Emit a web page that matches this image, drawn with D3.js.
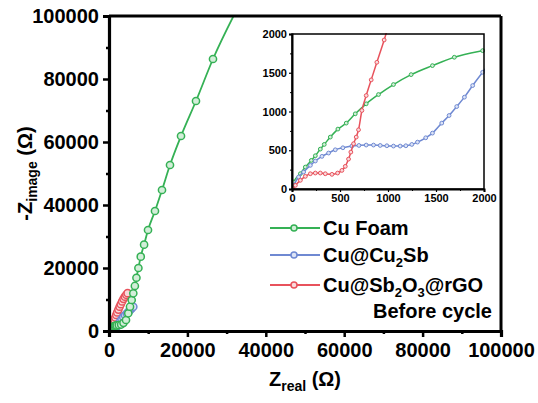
<!DOCTYPE html>
<html>
<head>
<meta charset="utf-8">
<script src="https://cdn.jsdelivr.net/npm/d3@7"></script>
<style>
  html, body { margin: 0; padding: 0; background: #fff; }
  svg { display: block; font-family: "Liberation Sans", Arial, sans-serif; font-weight: bold; }
</style>
</head>
<body>
<svg id="chart" width="538" height="403"></svg>
<script>
// Nyquist data: [Z_real, -Z_image] in ohm
const cuFoam = [[0,0],[17,90],[87,197],[139,283],[201,369],[243,429],[295,515],[336,575],[399,670],[478,773],[565,850],[659,970],[773,1099],[901,1219],[1057,1348],[1241,1476],[1463,1592],[1691,1700],[1986,1785],[2500,1880],[3100,2050],[3700,2600],[4340,3490],[4920,5620],[5360,7710],[5790,9840],[6200,11970],[6600,14300],[7000,16900],[7500,20000],[8100,23600],[8950,27400],[9950,32060],[11730,38100],[13520,44760],[15560,52700],[18370,61900],[22190,73020],[26530,86350],[32500,101800]];
const cuCu2Sb = [[0,0],[17,47],[69,155],[121,219],[191,305],[243,361],[312,421],[381,464],[451,506],[530,532],[624,554],[697,562],[773,567],[849,567],[919,562],[988,558],[1057,554],[1127,554],[1186,558],[1248,575],[1307,605],[1393,661],[1463,721],[1560,850],[1636,948],[1716,1064],[1796,1185],[1882,1335],[1986,1506],[2400,2100],[2800,3000],[3200,3700],[3650,4400],[4100,5000],[4550,5600],[5000,6200],[5400,6700],[5800,7200],[6200,7700]];
const cuSb2O3rGO = [[0,0],[7,4],[35,47],[87,112],[139,163],[191,197],[243,206],[295,206],[347,197],[416,189],[475,206],[520,240],[555,292],[589,386],[613,476],[641,584],[669,670],[693,764],[728,1013],[773,1206],[825,1408],[884,1635],[960,1923],[1050,2300],[1200,2900],[1400,3600],[1600,4300],[1850,5100],[2100,5900],[2400,6800],[2700,7700],[3000,8500],[3350,9400],[3700,10200],[4050,10900],[4400,11500],[4750,12000]];

const mainTicks = [0, 20000, 40000, 60000, 80000, 100000];
const insetTicks = [0, 500, 1000, 1500, 2000];

const series = [
  { name: "Cu Foam", data: cuFoam, color: "#35b155", fill: "#d3eed9" },
  { name: "Cu@Cu2Sb", data: cuCu2Sb, color: "#6f89d2", fill: "#dde4f6" },
  { name: "Cu@Sb2O3@rGO", data: cuSb2O3rGO, color: "#e8525c", fill: "#f9dadc" }
];

const fmt = d3.format("d");
const svg = d3.select("#chart");

// ---------- main plot ----------
const M = { left: 109, right: 501, top: 16, bottom: 331 };
const x = d3.scaleLinear().domain([0, 100000]).range([M.left, M.right]);
const y = d3.scaleLinear().domain([0, 100000]).range([M.bottom, M.top]);

svg.append("clipPath").attr("id", "mainClip")
  .append("rect").attr("x", M.left).attr("y", M.top)
  .attr("width", M.right - M.left).attr("height", M.bottom - M.top);

const mainG = svg.append("g").attr("clip-path", "url(#mainClip)");
const mainLine = d3.line().x(d => x(d[0])).y(d => y(d[1])).curve(d3.curveMonotoneX);

// red first, then blue, green on top in the crowded low region
[series[2], series[1], series[0]].forEach(s => {
  mainG.append("path").datum(s.data)
    .attr("d", mainLine).attr("fill", "none")
    .attr("stroke", s.color).attr("stroke-width", 1.8);
  mainG.selectAll(null).data(s.data.filter(d => d[0] > 600 || d[1] > 1200)).enter()
    .append("circle")
    .attr("cx", d => x(d[0])).attr("cy", d => y(d[1])).attr("r", 3.6)
    .attr("fill", s.fill).attr("stroke", s.color).attr("stroke-width", 1.5);
});

// frame on top / right
svg.append("line").attr("x1", M.left).attr("x2", M.right).attr("y1", M.top).attr("y2", M.top)
  .attr("stroke", "#000").attr("stroke-width", 3);
svg.append("line").attr("x1", M.right).attr("x2", M.right).attr("y1", M.top).attr("y2", M.bottom)
  .attr("stroke", "#000").attr("stroke-width", 3);

const minorMain = d3.range(10000, 100000, 20000);

const xAxis = svg.append("g").attr("transform", `translate(0,${M.bottom})`)
  .call(d3.axisBottom(x).tickValues(mainTicks).tickFormat(fmt).tickSize(6).tickPadding(6));
const yAxis = svg.append("g").attr("transform", `translate(${M.left},0)`)
  .call(d3.axisLeft(y).tickValues(mainTicks).tickFormat(fmt).tickSize(6).tickPadding(4));
svg.append("g").attr("transform", `translate(0,${M.bottom})`)
  .call(d3.axisBottom(x).tickValues(minorMain).tickFormat("").tickSize(3))
  .call(g => g.select(".domain").remove());
svg.append("g").attr("transform", `translate(${M.left},0)`)
  .call(d3.axisLeft(y).tickValues(minorMain).tickFormat("").tickSize(3))
  .call(g => g.select(".domain").remove());

[xAxis, yAxis].forEach(a => {
  a.select(".domain").attr("stroke-width", 3.2);
  a.selectAll("text").attr("font-size", 20).attr("font-weight", "bold").attr("fill", "#000")
    .attr("font-family", "Liberation Sans, Arial, sans-serif");
});
svg.selectAll(".tick line").attr("stroke-width", 2.5);

// axis titles
const xt = svg.append("text").attr("x", (M.left + M.right) / 2).attr("y", 386)
  .attr("text-anchor", "middle").attr("font-size", 20);
xt.append("tspan").text("Z");
xt.append("tspan").text("real").attr("font-size", 14).attr("dy", 5);
xt.append("tspan").text(" (Ω)").attr("dy", -5);

const yt = svg.append("text")
  .attr("transform", `translate(32,${(M.top + M.bottom) / 2}) rotate(-90)`)
  .attr("text-anchor", "middle").attr("font-size", 20);
yt.append("tspan").text("-Z");
yt.append("tspan").text("image").attr("font-size", 14).attr("dy", 5);
yt.append("tspan").text(" (Ω)").attr("dy", -5);

// ---------- inset ----------
const I = { left: 292, right: 484, top: 34, bottom: 189 };
const xi = d3.scaleLinear().domain([0, 2000]).range([I.left, I.right]);
const yi = d3.scaleLinear().domain([0, 2000]).range([I.bottom, I.top]);

svg.append("clipPath").attr("id", "insetClip")
  .append("rect").attr("x", I.left).attr("y", I.top - 1)
  .attr("width", I.right - I.left + 1).attr("height", I.bottom - I.top + 1);

const insetG = svg.append("g").attr("clip-path", "url(#insetClip)");
const insetLine = d3.line().x(d => xi(d[0])).y(d => yi(d[1])).curve(d3.curveMonotoneX);

series.forEach(s => {
  const pts = s.data.filter(d => d[0] <= 2100);
  const seg = s.data.filter(d => d[0] <= 2600);
  insetG.append("path").datum(seg).attr("d", insetLine)
    .attr("fill", "none").attr("stroke", s.color).attr("stroke-width", 1.5);
  insetG.selectAll(null).data(pts).enter().append("circle")
    .attr("cx", d => xi(d[0])).attr("cy", d => yi(d[1])).attr("r", 1.9)
    .attr("fill", s.fill).attr("stroke", s.color).attr("stroke-width", 1);
});

svg.append("rect").attr("x", I.left).attr("y", I.top)
  .attr("width", I.right - I.left).attr("height", I.bottom - I.top)
  .attr("fill", "none").attr("stroke", "#000").attr("stroke-width", 1.5);

const minorInset = d3.range(250, 2000, 500);
const xiAxis = svg.append("g").attr("transform", `translate(0,${I.bottom})`)
  .call(d3.axisBottom(xi).tickValues(insetTicks).tickFormat(fmt).tickSize(3).tickPadding(2));
const yiAxis = svg.append("g").attr("transform", `translate(${I.left},0)`)
  .call(d3.axisLeft(yi).tickValues(insetTicks).tickFormat(fmt).tickSize(3).tickPadding(2));
svg.append("g").attr("transform", `translate(0,${I.bottom})`)
  .call(d3.axisBottom(xi).tickValues(minorInset).tickFormat("").tickSize(2))
  .call(g => g.select(".domain").remove());
svg.append("g").attr("transform", `translate(${I.left},0)`)
  .call(d3.axisLeft(yi).tickValues(minorInset).tickFormat("").tickSize(2))
  .call(g => g.select(".domain").remove());
[xiAxis, yiAxis].forEach(a => {
  a.select(".domain").attr("stroke-width", 2);
  a.selectAll(".tick line").attr("stroke-width", 1.2);
  a.selectAll("text").attr("font-size", 11).attr("font-weight", "bold").attr("fill", "#000")
    .attr("font-family", "Liberation Sans, Arial, sans-serif");
});

// ---------- legend ----------
const legendRows = [
  { s: series[0], y: 228, parts: [["Cu Foam", 0]] },
  { s: series[1], y: 255, parts: [["Cu@Cu", 0], ["2", 1], ["Sb", 0]] },
  { s: series[2], y: 285, parts: [["Cu@Sb", 0], ["2", 1], ["O", 0], ["3", 1], ["@rGO", 0]] }
];
legendRows.forEach(r => {
  svg.append("line").attr("x1", 270).attr("x2", 320).attr("y1", r.y).attr("y2", r.y)
    .attr("stroke", r.s.color).attr("stroke-width", 1.8);
  svg.append("circle").attr("cx", 294).attr("cy", r.y).attr("r", 3)
    .attr("fill", r.s.fill).attr("stroke", r.s.color).attr("stroke-width", 1.5);
  const t = svg.append("text").attr("x", 323).attr("y", r.y + 7).attr("font-size", 20);
  let sub = 0;
  r.parts.forEach(([txt, isSub]) => {
    const dy = isSub ? (sub ? 0 : 5) : (sub ? -5 : 0);
    t.append("tspan").text(txt).attr("font-size", isSub ? 13 : 20).attr("dy", dy);
    sub = isSub;
  });
});
svg.append("text").attr("x", 492).attr("y", 318).attr("text-anchor", "end")
  .attr("font-size", 20).text("Before cycle");
</script>
</body>
</html>
